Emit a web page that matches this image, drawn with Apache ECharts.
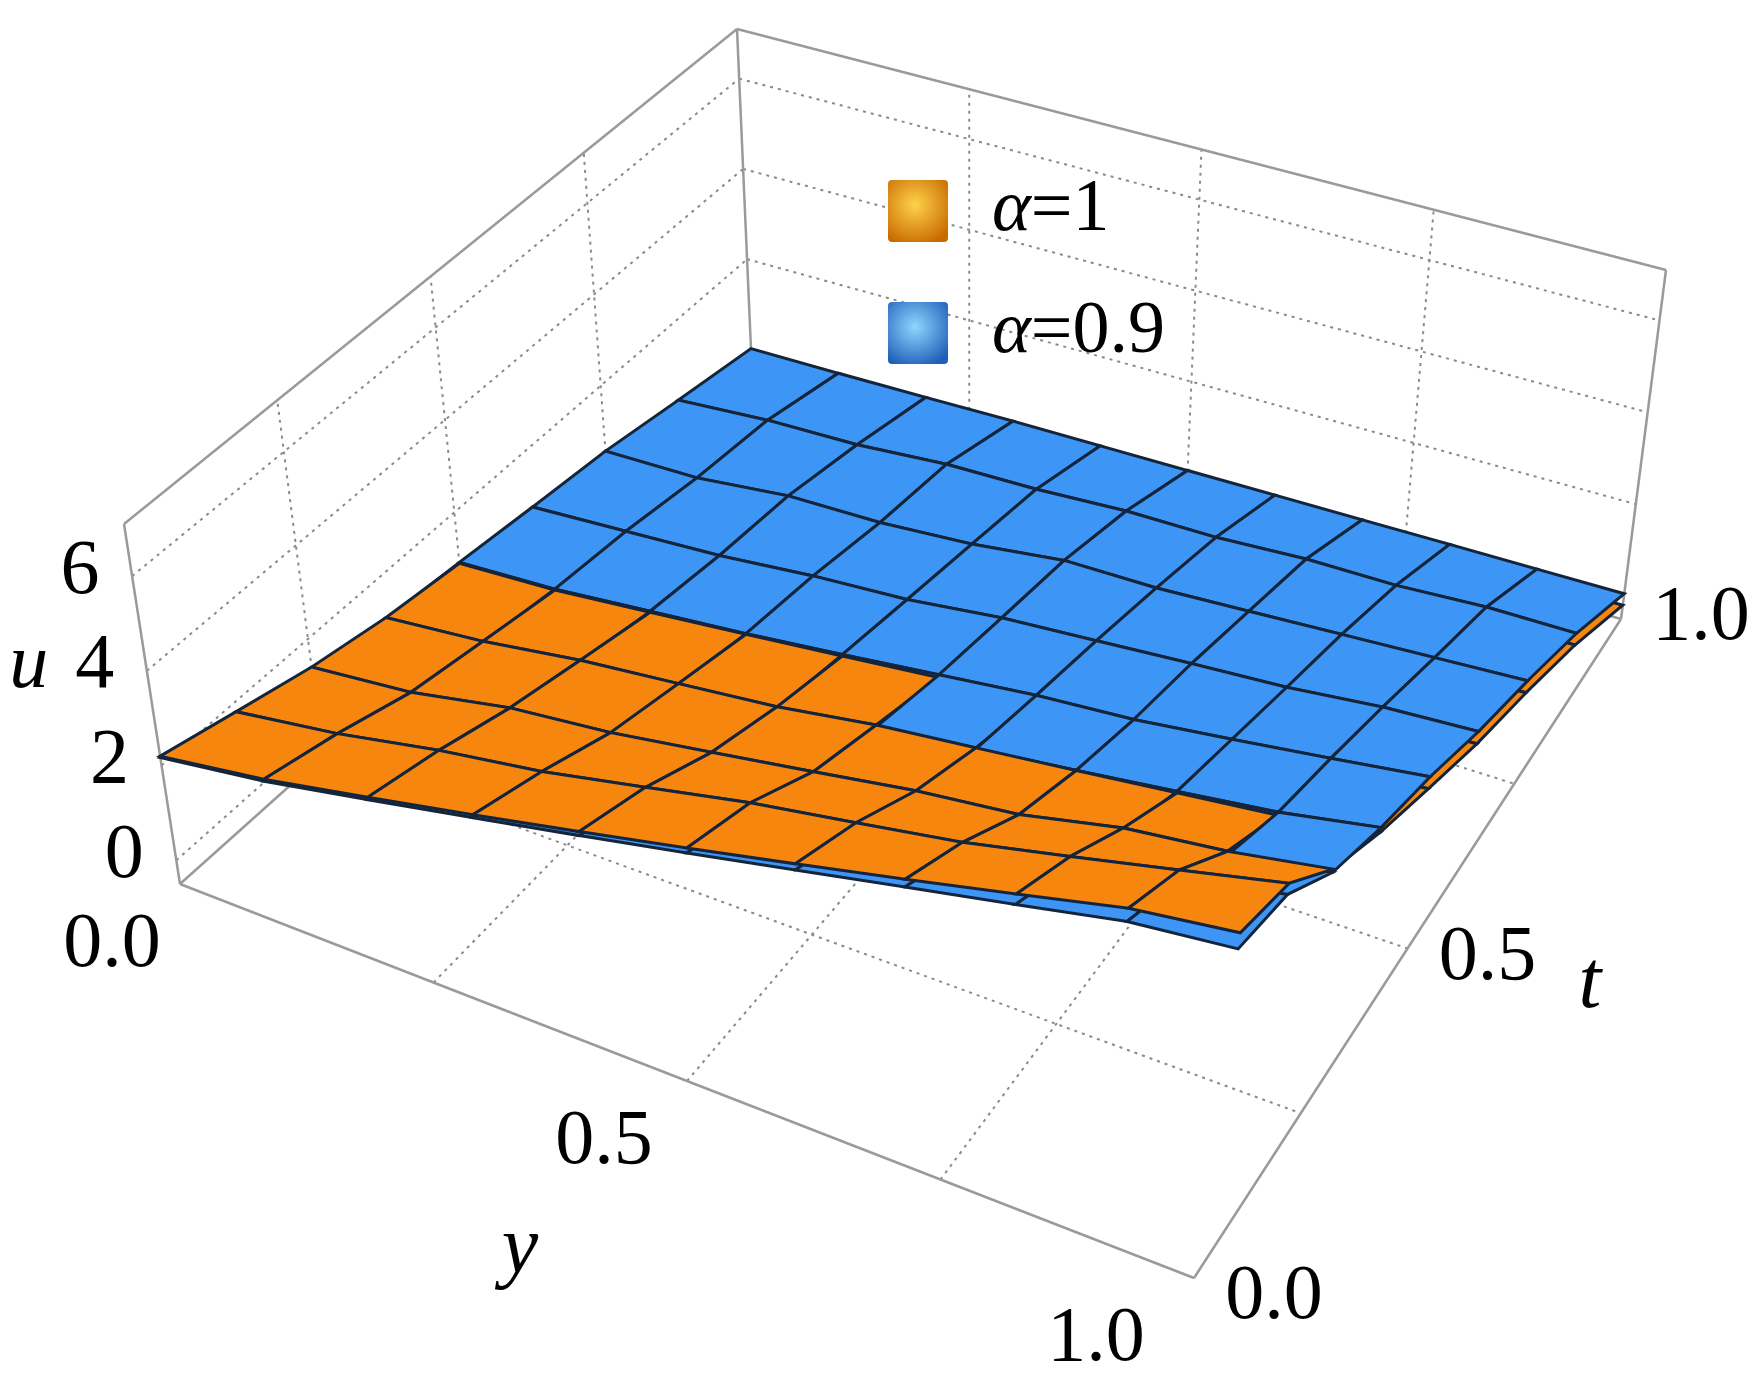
<!DOCTYPE html>
<html>
<head>
<meta charset="utf-8">
<script src="https://cdn.jsdelivr.net/npm/echarts@6/dist/echarts.min.js"></script>
<style>html,body{margin:0;background:#fff}#main{width:1764px;height:1391px}</style>
</head>
<body>
<div id="main"></div>
<script>
// 数据
var yVals = [0, 0.1, 0.2, 0.3, 0.4, 0.5, 0.6, 0.7, 0.8, 0.9, 1.0]
var tVals = [0, 0.125, 0.25, 0.375, 0.5, 0.625, 0.75, 0.875, 1.0]
// 每行对应一个 t, 每列对应一个 y
var uAlpha1 = [
    [2.2, 2.5, 2.9, 3.3, 3.7, 4.1, 4.5, 4.9, 5.3, 5.7, 5.9],
    [1.8, 2.1, 2.5, 2.8, 3.2, 3.6, 3.9, 4.2, 4.6, 5.0, 5.4],
    [1.4, 1.6, 2.0, 2.2, 2.5, 2.8, 3.1, 3.3, 3.7, 3.9, 4.2],
    [1.1, 1.3, 1.6, 1.8, 2.0, 2.3, 2.5, 2.7, 2.9, 3.1, 3.4],
    [0.9, 1.0, 1.2, 1.4, 1.6, 1.8, 2.0, 2.1, 2.3, 2.5, 2.7],
    [0.7, 0.8, 0.9, 1.1, 1.2, 1.4, 1.5, 1.6, 1.7, 1.9, 2.0],
    [0.5, 0.5, 0.7, 0.7, 0.8, 1.0, 1.0, 1.1, 1.2, 1.3, 1.4],
    [0.2, 0.3, 0.3, 0.4, 0.4, 0.5, 0.5, 0.6, 0.6, 0.7, 0.7],
    [-0.1, -0.15, -0.2, -0.2, -0.2, -0.2, -0.2, -0.2, -0.2, -0.2, -0.2]
]
var uAlpha09 = [
    [2.17, 2.46, 2.85, 3.24, 3.62, 4.0, 4.38, 4.75, 5.1, 5.45, 5.6],
    [1.75, 2.05, 2.44, 2.72, 3.1, 3.48, 3.75, 4.03, 4.4, 4.78, 5.19],
    [1.36, 1.56, 1.94, 2.12, 2.4, 2.68, 2.98, 3.18, 3.6, 3.82, 4.14],
    [1.07, 1.27, 1.56, 1.75, 1.95, 2.26, 2.48, 2.7, 2.93, 3.16, 3.49],
    [0.92, 1.02, 1.22, 1.41, 1.63, 1.86, 2.08, 2.22, 2.45, 2.69, 2.94],
    [0.74, 0.86, 0.98, 1.18, 1.31, 1.55, 1.69, 1.83, 1.95, 2.15, 2.25],
    [0.57, 0.6, 0.82, 0.85, 0.99, 1.24, 1.25, 1.35, 1.45, 1.55, 1.65],
    [0.29, 0.43, 0.47, 0.62, 0.65, 0.75, 0.75, 0.85, 0.85, 0.95, 0.95],
    [0.02, 0.02, 0.03, 0.05, 0.05, 0.05, 0.05, 0.05, 0.05, 0.05, 0.05]
]
var uTicks = [0, 2, 4, 6]
var yTicks = [0, 0.5, 1.0]
var tTicks = [0, 0.5, 1.0]
var seriesLabels = ['1', '0.9']

// 投影: 地面四角 + 竖直方向
var zMin = -0.5, zMax = 7.1
var G = {A: [180, 884], B: [1194, 1278], C: [1621, 619], D: [752, 372]}
var H = {A: [-56, -360], B: [55, -410], C: [45, -349], D: [-15, -343]}

function proj (y, t, u) {
    var wA = (1 - y) * (1 - t), wB = y * (1 - t), wC = y * t, wD = (1 - y) * t
    var k = (u - zMin) / (zMax - zMin)
    var px = G.A[0] * wA + G.B[0] * wB + G.C[0] * wC + G.D[0] * wD
    var py = G.A[1] * wA + G.B[1] * wB + G.C[1] * wC + G.D[1] * wD
    var hx = H.A[0] * wA + H.B[0] * wB + H.C[0] * wC + H.D[0] * wD
    var hy = H.A[1] * wA + H.B[1] * wB + H.C[1] * wC + H.D[1] * wD
    return [px + hx * k, py + hy * k]
}
// 坐标框角点
function boxPt (y, t, u) {
    var k = (u - zMin) / (zMax - zMin)
    var c = y === 0 ? (t === 0 ? 'A' : 'D') : (t === 0 ? 'B' : 'C')
    return [G[c][0] + H[c][0] * k, G[c][1] + H[c][1] * k]
}
function lerp (p, q, v) {
    return [p[0] + (q[0] - p[0]) * v, p[1] + (q[1] - p[1]) * v]
}

var surfaces = [uAlpha1, uAlpha09]
var colors = ['#f7860f', '#3d95f5']

// 面片按远近排序
var cells = []
for (var it = 0; it < tVals.length - 1; it++) {
    for (var iy = 0; iy < yVals.length - 1; iy++) {
        var m = []
        for (var s = 0; s < 2; s++) {
            var U = surfaces[s]
            m.push((U[it][iy] + U[it][iy + 1] + U[it + 1][iy] + U[it + 1][iy + 1]) / 4)
        }
        var lowFirst = m[0] < m[1] ? [0, 1] : [1, 0]
        var depth = (tVals[it] + tVals[it + 1]) / 2 - (yVals[iy] + yVals[iy + 1]) / 2
        cells.push([iy, it, lowFirst[0], depth, 0])
        cells.push([iy, it, lowFirst[1], depth, 1])
    }
}
cells.sort(function (a, b) { return b[3] - a[3] || a[4] - b[4] })

function renderCell (params, api) {
    var iy = api.value(0), it = api.value(1), s = api.value(2)
    var U = surfaces[s]
    var pts = [
        proj(yVals[iy], tVals[it], U[it][iy]),
        proj(yVals[iy + 1], tVals[it], U[it][iy + 1]),
        proj(yVals[iy + 1], tVals[it + 1], U[it + 1][iy + 1]),
        proj(yVals[iy], tVals[it + 1], U[it + 1][iy])
    ]
    var area = 0
    for (var i = 0; i < 4; i++) {
        var p = pts[i], q = pts[(i + 1) % 4]
        area += p[0] * q[1] - q[0] * p[1]
    }
    var fill = area > 0 ? '#0d2a5c' : colors[s]
    return {
        type: 'polygon',
        shape: {points: pts},
        style: {fill: fill, stroke: '#14243a', lineWidth: 3}
    }
}

// 坐标框与网格线
var graphics = []
function line (p, q, dashed) {
    graphics.push({
        type: 'line', z: 0, silent: true,
        shape: {x1: p[0], y1: p[1], x2: q[0], y2: q[1]},
        style: {stroke: dashed ? '#8a8a8a' : '#9a9a9a', lineWidth: dashed ? 2 : 2.5, lineDash: dashed ? [3, 5] : null}
    })
}
function text (p, str, opt) {
    graphics.push({
        type: 'text', z: 20, silent: true, x: p[0], y: p[1],
        style: Object.assign({
            text: str, fill: '#000', fontSize: 78, fontFamily: 'Liberation Serif',
            align: 'center', verticalAlign: 'middle'
        }, opt || {})
    })
}
var gridSteps = [0.25, 0.5, 0.75]
gridSteps.forEach(function (v) {
    line(lerp(boxPt(0, 0, zMin), boxPt(1, 0, zMin), v), lerp(boxPt(0, 1, zMin), boxPt(1, 1, zMin), v), true)
    line(proj(0, v, zMin), proj(1, v, zMin), true)
    line(proj(0, v, zMin), proj(0, v, zMax), true)
    line(proj(v, 1, zMin), proj(v, 1, zMax), true)
})
uTicks.forEach(function (u) {
    line(proj(0, 0, u), proj(0, 1, u), true)
    line(proj(0, 1, u), proj(1, 1, u), true)
})
line(boxPt(0, 0, zMin), boxPt(1, 0, zMin))
line(boxPt(1, 0, zMin), boxPt(1, 1, zMin))
line(boxPt(0, 0, zMin), boxPt(0, 1, zMin))
line(boxPt(0, 1, zMin), boxPt(1, 1, zMin))
line(boxPt(0, 0, zMin), boxPt(0, 0, zMax))
line(boxPt(0, 1, zMin), boxPt(0, 1, zMax))
line(boxPt(1, 1, zMin), boxPt(1, 1, zMax))
line(boxPt(0, 0, zMax), boxPt(0, 1, zMax))
line(boxPt(0, 1, zMax), boxPt(1, 1, zMax))

// 刻度标签
uTicks.forEach(function (u) {
    var p = proj(0, 0, u)
    text([p[0] - 52, p[1] - 4], String(u))
})
yTicks.forEach(function (v) {
    var p = lerp(boxPt(0, 0, zMin), boxPt(1, 0, zMin), v)
    text([p[0] - 68 - 30 * v, p[1] + 62], v.toFixed(1))
})
tTicks.forEach(function (v) {
    var p = lerp(boxPt(1, 0, zMin), boxPt(1, 1, zMin), v)
    text([p[0] + 80, p[1] + 20 - 20 * v], v.toFixed(1))
})
var pu = proj(0, 0, 4)
text([pu[0] - 118, pu[1] - 4], 'u', {fontStyle: 'italic'})
text([520, 1250], 'y', {fontStyle: 'italic', fontSize: 82})
text([1590, 985], 't', {fontStyle: 'italic', fontSize: 82})

// 图例
function legendBox (x, y, c1, c2) {
    graphics.push({
        type: 'rect', z: 20, silent: true,
        shape: {x: x, y: y, width: 60, height: 62, r: 4},
        style: {
            fill: new echarts.graphic.RadialGradient(0.45, 0.4, 0.7, [
                {offset: 0, color: c1}, {offset: 1, color: c2}
            ])
        }
    })
}
legendBox(888, 180, '#ffd24a', '#c86a00')
legendBox(888, 302, '#8fd6ff', '#1f5fb8')
var legendRich = {a: {fontStyle: 'italic', fontSize: 74, fontFamily: 'Liberation Serif'}, b: {fontSize: 74, fontFamily: 'Liberation Serif'}}
text([992, 211], '{a|α}{b|=' + seriesLabels[0] + '}', {align: 'left', rich: legendRich})
text([992, 333], '{a|α}{b|=' + seriesLabels[1] + '}', {align: 'left', rich: legendRich})

var myChart = echarts.init(document.getElementById('main'))
myChart.setOption({
    animation: false,
    graphic: {elements: graphics},
    series: [{
        type: 'custom',
        coordinateSystem: 'none',
        z: 5,
        renderItem: renderCell,
        data: cells
    }]
})
</script>
</body>
</html>
